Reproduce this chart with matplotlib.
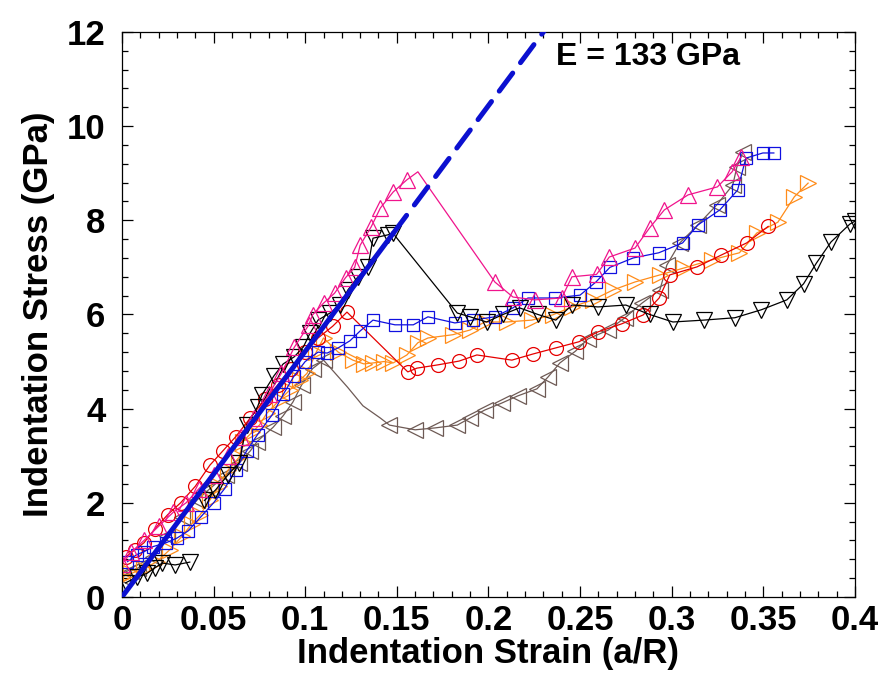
import numpy as np
import matplotlib.pyplot as plt
from matplotlib.ticker import MultipleLocator, FuncFormatter

plt.rcParams['font.family'] = ['Liberation Sans', 'DejaVu Sans']
plt.rcParams['font.weight'] = 'bold'

# Curvas: deformación (a/R) y tensión (GPa)
rosa_x = [0.0, 0.005, 0.012, 0.02, 0.028, 0.035, 0.042, 0.05, 0.058, 0.065, 0.072, 0.08,
          0.087, 0.094, 0.102, 0.104, 0.110, 0.116, 0.122, 0.127, 0.130, 0.136, 0.141,
          0.148, 0.1555, 0.1615, 0.2035, 0.2134, 0.2254, 0.240, 0.2456, 0.259, 0.266,
          0.280, 0.288, 0.296, 0.309, 0.325, 0.333, 0.338]
rosa_y = [0.7, 0.95, 1.2, 1.5, 1.8, 2.0, 2.3, 2.6, 3.0, 3.4, 3.8, 4.3,
          4.75, 5.3, 5.78, 5.99, 6.24, 6.45, 6.78, 7.0, 7.47, 7.86, 8.26,
          8.6, 8.86, 9.03, 6.69, 6.37, 6.31, 6.35, 6.8, 6.85, 7.22,
          7.41, 7.84, 8.22, 8.54, 8.71, 9.03, 9.35]

negro_x = [0.045, 0.051, 0.058, 0.064, 0.068, 0.074, 0.0764, 0.083, 0.088, 0.094, 0.099,
           0.1026, 0.107, 0.1135, 0.119, 0.1233, 0.1288, 0.1342, 0.137, 0.145, 0.148,
           0.183, 0.19, 0.199, 0.208, 0.217, 0.227, 0.2368, 0.2456, 0.2598, 0.275, 0.288,
           0.3007, 0.3176, 0.3345, 0.349, 0.3629, 0.372, 0.379, 0.387, 0.3973, 0.4]
negro_y = [2.05, 2.27, 2.6, 2.85, 3.65, 4.04, 4.29, 4.7, 4.95, 5.1, 5.31,
           5.6, 5.88, 6.03, 6.2, 6.52, 6.8, 7.0, 7.62, 7.69, 7.72,
           6.03, 5.95, 5.84, 6.0, 6.14, 6.0, 5.88, 6.2, 6.16, 6.2, 6.0,
           5.84, 5.88, 5.93, 6.1, 6.31, 6.65, 7.09, 7.54, 7.92, 7.98]

negro2_x = [0.002, 0.008, 0.0136, 0.018, 0.022, 0.029, 0.037]
negro2_y = [0.3, 0.42, 0.5, 0.62, 0.72, 0.68, 0.74]

azul_x = [0.003, 0.008, 0.012, 0.017, 0.024, 0.03, 0.036, 0.043, 0.05, 0.056, 0.062, 0.068,
          0.074, 0.082, 0.088, 0.094, 0.1, 0.107, 0.112, 0.118, 0.1244, 0.13, 0.137, 0.149,
          0.159, 0.167, 0.1817, 0.1915, 0.2035, 0.2134, 0.2216, 0.2363, 0.25, 0.2587,
          0.2663, 0.279, 0.293, 0.306, 0.3143, 0.3263, 0.336, 0.3405, 0.3498, 0.3558]
azul_y = [0.75, 0.9, 0.96, 1.07, 1.15, 1.25, 1.4, 1.7, 2.0, 2.3, 2.7, 3.1,
          3.45, 3.87, 4.3, 4.7, 5.0, 5.2, 5.18, 5.29, 5.44, 5.65, 5.88, 5.78,
          5.78, 5.95, 5.82, 5.88, 5.95, 6.14, 6.35, 6.35, 6.41, 6.69,
          7.0, 7.2, 7.31, 7.52, 7.9, 8.22, 8.64, 9.32, 9.43, 9.43]

naranja_x = [0.0, 0.005, 0.012, 0.019, 0.026, 0.033, 0.038, 0.0426, 0.048, 0.053, 0.058,
             0.064, 0.066, 0.071, 0.075, 0.079, 0.086, 0.0917, 0.097, 0.101, 0.106, 0.11,
             0.118, 0.126, 0.132, 0.137, 0.143, 0.148, 0.1555, 0.1615, 0.167, 0.1806, 0.19,
             0.198, 0.21, 0.2237, 0.235, 0.2456, 0.257, 0.268, 0.28, 0.2936, 0.307, 0.322,
             0.337, 0.3465, 0.358, 0.367, 0.3745]
naranja_y = [0.43, 0.5, 0.6, 0.75, 1.0, 1.3, 1.55, 1.74, 2.06, 2.35, 2.7,
             2.97, 3.3, 3.5, 3.65, 3.9, 4.18, 4.4, 4.6, 4.75, 5.2, 5.5,
             5.2, 5.03, 4.95, 4.97, 5.0, 4.97, 5.14, 5.4, 5.5, 5.57, 5.67,
             5.84, 5.84, 5.88, 5.99, 6.16, 6.31, 6.52, 6.69, 6.84, 6.99, 7.16,
             7.31, 7.73, 7.96, 8.5, 8.79]

rojo_x = [0.002, 0.007, 0.012, 0.018, 0.025, 0.032, 0.04, 0.048, 0.055, 0.062, 0.07, 0.078,
          0.085, 0.092, 0.1, 0.107, 0.115, 0.1228, 0.156, 0.161, 0.1725, 0.184, 0.1937,
          0.2128, 0.2243, 0.2368, 0.2494, 0.2598, 0.2727, 0.2845, 0.2932, 0.299, 0.3138,
          0.327, 0.341, 0.3527]
rojo_y = [0.85, 1.0, 1.15, 1.45, 1.75, 2.0, 2.35, 2.8, 3.1, 3.4, 3.8, 4.2,
          4.5, 4.85, 5.2, 5.5, 5.75, 6.05, 4.78, 4.86, 4.93, 5.01, 5.14,
          5.03, 5.16, 5.29, 5.42, 5.63, 5.8, 5.99, 6.35, 6.84, 7.01,
          7.26, 7.52, 7.87]

gris_x = [0.0, 0.005, 0.009, 0.017, 0.0245, 0.033, 0.041, 0.048, 0.057, 0.064, 0.07, 0.0737,
          0.0824, 0.088, 0.0933, 0.098, 0.104, 0.11, 0.123, 0.1315, 0.141, 0.146, 0.16,
          0.1708, 0.183, 0.19, 0.198, 0.2074, 0.216, 0.2265, 0.2325, 0.239, 0.2475, 0.2543,
          0.2655, 0.2745, 0.2838, 0.2936, 0.2974, 0.3045, 0.3143, 0.3247, 0.3334, 0.3356,
          0.3389]
gris_y = [0.43, 0.55, 0.62, 0.85, 1.3, 1.7, 2.06, 2.3, 2.6, 2.85, 3.1, 3.3,
          3.6, 3.85, 4.14, 4.5, 4.85, 5.03, 4.46, 4.06, 3.8, 3.65, 3.55,
          3.59, 3.65, 3.8, 3.97, 4.12, 4.27, 4.42, 4.67, 4.97, 5.22, 5.48,
          5.67, 5.93, 6.24, 6.52, 7.05, 7.52, 7.9, 8.33, 8.75, 9.13,
          9.45]

# Recta elástica (E = 133 GPa), pendiente
pendiente_E = 12 / 0.23
x_solida = np.array([0.0, 0.148])
x_trazos = np.array([0.148, 0.26])

fig = plt.figure(figsize=(8.84, 6.73), dpi=100)
ax = fig.add_axes([0.138, 0.113, 0.829, 0.8395])

def curva(x, y, color, marker, ms, sin_marca=()):
    idx = [i for i in range(len(x)) if i not in sin_marca]
    ax.plot(x, y, color=color, lw=0.9, marker=marker, ms=ms, mfc='none',
            mec=color, mew=0.9, markevery=idx)

curva(gris_x, gris_y, '#6e5a55', '<', 11, sin_marca=(18, 19, 20))
curva(naranja_x, naranja_y, '#ff8c1a', '>', 11)
curva(rojo_x, rojo_y, '#e60000', 'o', 10)
curva(azul_x, azul_y, '#1010e0', 's', 9)
curva(negro2_x, negro2_y, 'black', 'v', 11)
curva(negro_x, negro_y, 'black', 'v', 11)
curva(rosa_x, rosa_y, '#f0148c', '^', 11, sin_marca=(25,))

ax.plot(x_solida, pendiente_E * x_solida, color='#0b10d0', lw=3.6,
        solid_capstyle='round', zorder=5)
ax.plot(x_trazos, pendiente_E * x_trazos, color='#0b10d0', lw=3.6,
        dashes=(4.5, 2.6), dash_capstyle='round', zorder=5)

ax.text(0.237, 11.47, 'E = 133 GPa', fontsize=23, fontweight='bold',
        va='center', ha='left')

ax.set_xlim(0, 0.4)
ax.set_ylim(0, 12)
ax.xaxis.set_major_locator(MultipleLocator(0.05))
ax.xaxis.set_minor_locator(MultipleLocator(0.01))
ax.yaxis.set_major_locator(MultipleLocator(2))
ax.yaxis.set_minor_locator(MultipleLocator(0.4))
ax.xaxis.set_major_formatter(FuncFormatter(lambda v, p: f"{v:.2f}".rstrip('0').rstrip('.') if v else "0"))
ax.tick_params(which='both', direction='in', top=True, right=True, width=0.9)
ax.tick_params(which='major', length=8)
ax.tick_params(which='minor', length=4)
ax.tick_params(axis='x', labelsize=25, pad=5)
ax.tick_params(axis='y', labelsize=25, pad=12)
for lab in ax.get_xticklabels() + ax.get_yticklabels():
    lab.set_fontweight('bold')
for s in ax.spines.values():
    s.set_linewidth(0.9)

ax.set_xlabel('Indentation Strain (a/R)', fontsize=25, fontweight='bold', labelpad=0)
ax.set_ylabel('Indentation Stress (GPa)', fontsize=25, fontweight='bold', labelpad=8)

fig.savefig('out.png', dpi=100)
